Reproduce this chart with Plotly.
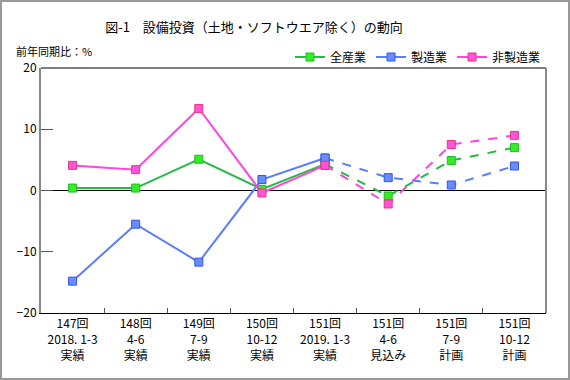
import plotly.graph_objects as go

categories = ["147回<br>2018. 1-3<br>実績", "148回<br>4-6<br>実績", "149回<br>7-9<br>実績",
              "150回<br>10-12<br>実績", "151回<br>2019. 1-3<br>実績", "151回<br>4-6<br>見込み",
              "151回<br>7-9<br>計画", "151回<br>10-12<br>計画"]
all_industry = [0.4, 0.4, 5.1, 0.2, 4.3, -0.9, 4.9, 7.0]
manufacturing = [-14.8, -5.5, -11.7, 1.8, 5.3, 2.1, 0.9, 4.0]
non_manufacturing = [4.1, 3.4, 13.4, -0.4, 4.1, -2.2, 7.5, 9.0]
series_names = ["全産業", "製造業", "非製造業"]
actual_end = 4  # index of last actual value (solid up to here, dashed after)

styles = [
    dict(line="#22bb44", fill="#33ee22", edge="#22bb22"),
    dict(line="#5a7dff", fill="#6a8cff", edge="#3355ee"),
    dict(line="#ff44e0", fill="#ff55dd", edge="#ee3377"),
]

fig = go.Figure()
for name, vals, st in zip(series_names, [all_industry, manufacturing, non_manufacturing], styles):
    marker = dict(symbol="square", size=8, color=st["fill"], line=dict(color=st["edge"], width=1))
    fig.add_trace(go.Scatter(
        x=categories[:actual_end + 1], y=vals[:actual_end + 1], name=name,
        mode="lines+markers", line=dict(color=st["line"], width=2), marker=marker,
        showlegend=True, legendgroup=name))
    fig.add_trace(go.Scatter(
        x=categories[actual_end:], y=vals[actual_end:], name=name,
        mode="lines+markers", line=dict(color=st["line"], width=2, dash="dash"), marker=marker,
        showlegend=False, legendgroup=name))

font_family = "Noto Sans CJK JP, sans-serif"
fig.update_layout(
    width=570, height=380,
    margin=dict(l=41, r=24, t=68, b=67, autoexpand=False),
    paper_bgcolor="white", plot_bgcolor="white",
    font=dict(family=font_family, size=12, color="black"),
    title=dict(text="図-1　設備投資（土地・ソフトウエア除く）の動向", x=254 / 570, xanchor="center",
               xref="container", yref="container",
               y=1 - 27 / 380, yanchor="middle", font=dict(size=13, color="black")),
    showlegend=True,
    legend=dict(orientation="h", x=1.0, xanchor="right", y=(313 - 57) / 245, yanchor="middle",
                font=dict(size=12), bgcolor="rgba(0,0,0,0)", tracegroupgap=0),
    xaxis=dict(type="category", range=[-0.5, 7.5], showgrid=False, zeroline=False,
               automargin=False,
               showline=True, linecolor="black", linewidth=1,
               ticks="inside", tickson="boundaries", ticklen=5, tickcolor="#555555",
               tickfont=dict(size=12)),
    yaxis=dict(range=[-20, 20], dtick=10, showgrid=False, automargin=False,
               zeroline=True, zerolinecolor="black", zerolinewidth=1,
               showline=True, linecolor="#888888", linewidth=2,
               ticks="inside", ticklen=12, tickcolor="#555555",
               tickfont=dict(size=12)),
    shapes=[
        dict(type="line", xref="paper", yref="paper", x0=0, x1=1, y0=1, y1=1,
             line=dict(color="black", width=1)),
        dict(type="line", xref="paper", yref="paper", x0=1, x1=1, y0=0, y1=1,
             line=dict(color="#888888", width=2)),
        dict(type="rect", xref="paper", yref="paper",
             x0=-40 / 505, x1=528 / 505, y0=-66 / 245, y1=312 / 245,
             line=dict(color="#999999", width=2)),
    ],
    annotations=[
        dict(text="前年同期比：%", xref="paper", yref="paper", x=-27 / 505, y=(313 - 51) / 245,
             xanchor="left", yanchor="middle", showarrow=False, font=dict(size=11)),
    ],
)

fig.write_html("out.html", post_script="document.body.style.margin='0';",
               config={"displayModeBar": False})
